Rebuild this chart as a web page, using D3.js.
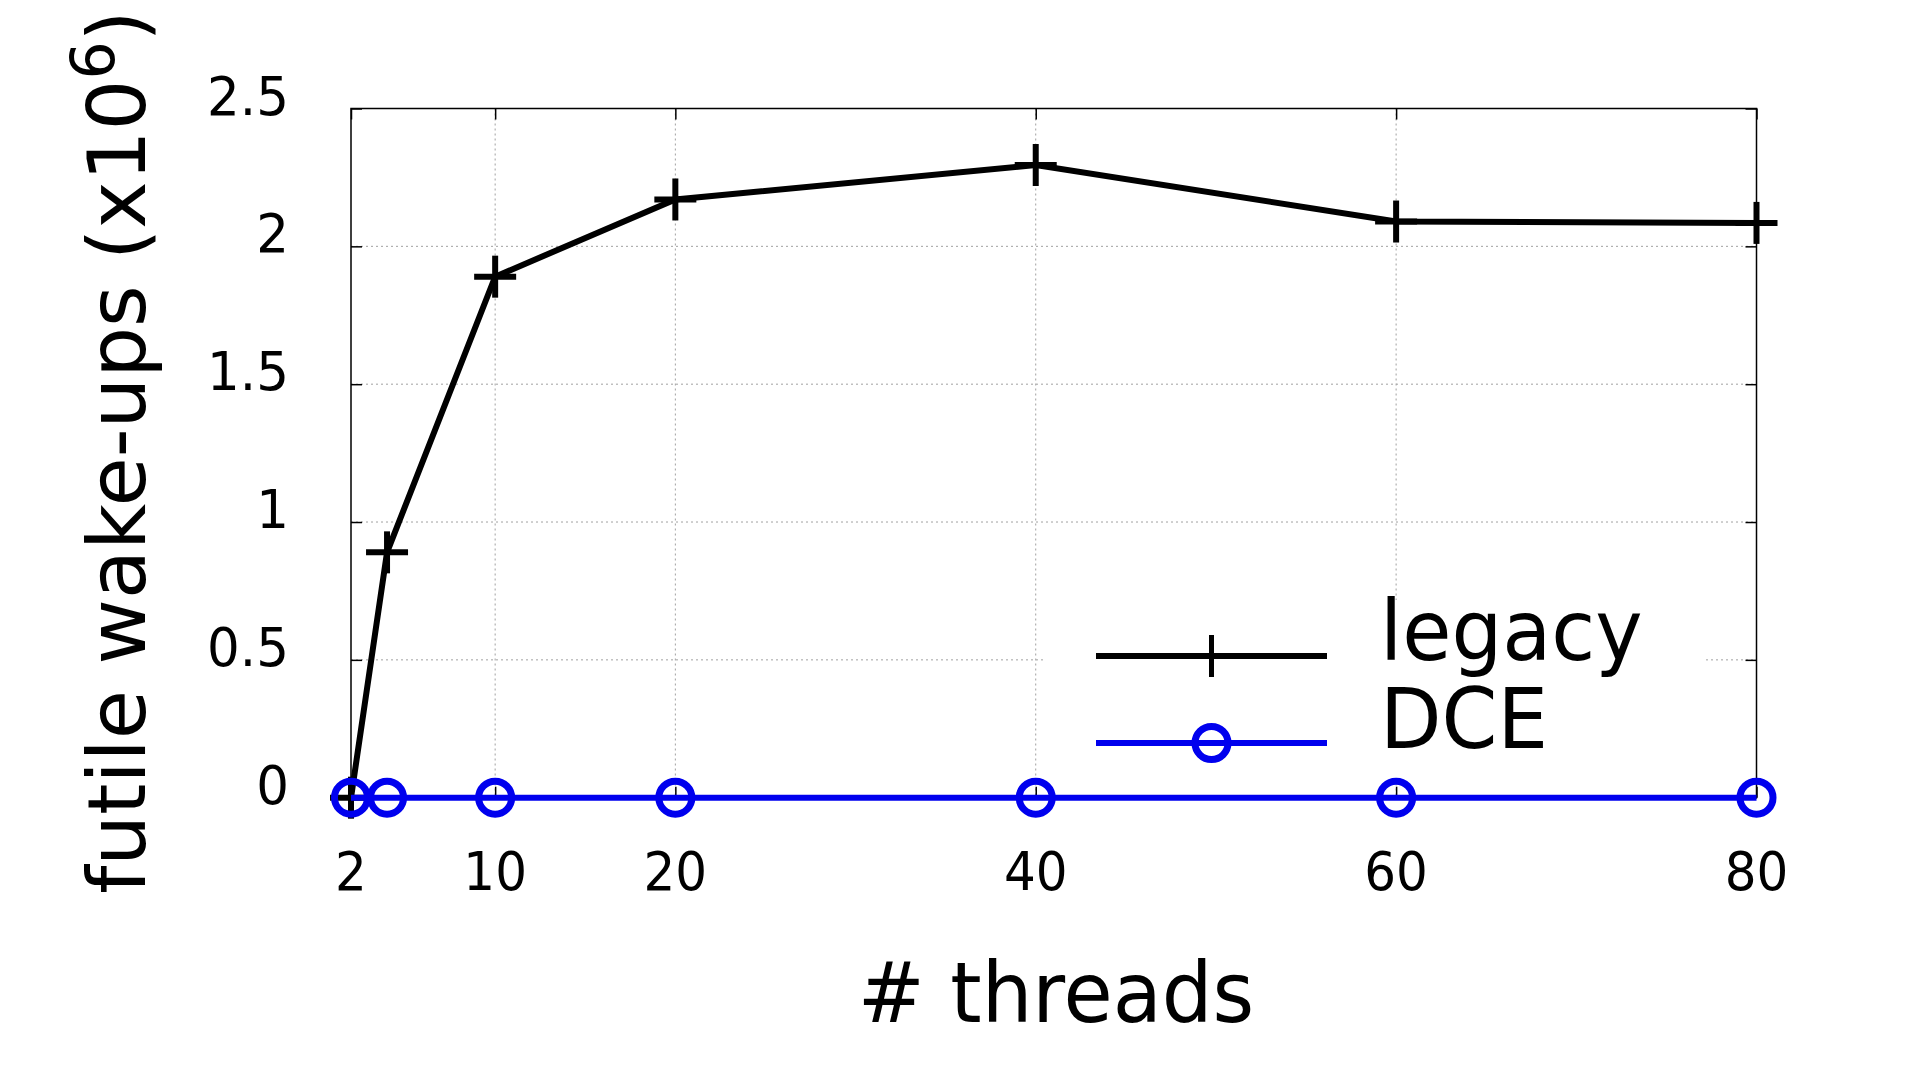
<!DOCTYPE html>
<html>
<head>
<meta charset="utf-8">
<script src="https://cdn.jsdelivr.net/npm/d3@7"></script>
<style>
  html, body { margin: 0; padding: 0; background: #fff; }
  svg { display: block; }
  text { font-family: "DejaVu Sans", sans-serif; fill: #000; }
</style>
</head>
<body>
<svg id="chart" width="1920" height="1080"></svg>
<script>
const threads = [2, 4, 10, 20, 40, 60, 80];
const legacyValues = [0, 0.89, 1.89, 2.17, 2.295, 2.09, 2.085];
const dceValues = [0, 0, 0, 0, 0, 0, 0];
const xTicks = [2, 10, 20, 40, 60, 80];
const yTicks = [0, 0.5, 1, 1.5, 2, 2.5];
const yTickLabels = ["0", "0.5", "1", "1.5", "2", "2.5"];
const seriesNames = ["legacy", "DCE"];
const xTitle = "# threads";

const L = 351, R = 1756.5, T = 108.5, B = 797.7;
const svg = d3.select("#chart");
svg.append("rect").attr("width", 1920).attr("height", 1080).attr("fill", "#fff");

const x = d3.scaleLinear().domain([2, 80]).range([L, R]);
const y = d3.scaleLinear().domain([0, 2.5]).range([B, T]);

// grid
const grid = svg.append("g").attr("stroke", "#a0a0a0").attr("stroke-width", 1).attr("stroke-dasharray", "2,3");
grid.selectAll("line.gx").data(xTicks.filter(d => d !== 2 && d !== 80)).join("line")
  .attr("x1", d => x(d)).attr("x2", d => x(d)).attr("y1", T).attr("y2", B);
grid.selectAll("line.gy").data(yTicks.filter(d => d !== 0 && d !== 2.5)).join("line")
  .attr("y1", d => y(d)).attr("y2", d => y(d)).attr("x1", L).attr("x2", R);

// legend background box
svg.append("rect").attr("x", 1043).attr("y", 600).attr("width", 662).attr("height", 178).attr("fill", "#fff");

// axes with inward ticks (gnuplot style, mirrored)
const tl = 11;
const axB = d3.axisBottom(x).tickValues(xTicks).tickSize(-tl).tickFormat("");
const axT = d3.axisTop(x).tickValues(xTicks).tickSize(-tl).tickFormat("");
const axLf = d3.axisLeft(y).tickValues(yTicks).tickSize(-tl).tickFormat("");
const axRt = d3.axisRight(y).tickValues(yTicks).tickSize(-tl).tickFormat("");
[[axB, `translate(0,${B})`], [axT, `translate(0,${T})`], [axLf, `translate(${L},0)`], [axRt, `translate(${R},0)`]]
  .forEach(([ax, tr]) => {
    const g = svg.append("g").attr("transform", tr).call(ax);
    g.select(".domain").remove();
    g.selectAll(".tick line").attr("stroke", "#000").attr("stroke-width", 1.5);
  });
svg.append("rect").attr("x", L).attr("y", T).attr("width", R - L).attr("height", B - T)
  .attr("fill", "none").attr("stroke", "#000").attr("stroke-width", 1.5);

// tick labels (slightly taller glyphs, as in the reference)
svg.append("g").selectAll("text").data(xTicks).join("text")
  .attr("transform", d => `translate(${x(d)},890) scale(1,1.05)`).attr("text-anchor", "middle")
  .attr("font-size", 50).text(d => d);
svg.append("g").selectAll("text").data(yTicks).join("text")
  .attr("transform", d => `translate(289,${y(d) + 6}) scale(1.03,1.05)`).attr("text-anchor", "end")
  .attr("font-size", 50).text((d, i) => yTickLabels[i]);

// titles
svg.append("text").attr("transform", "translate(1056,1022) scale(1,1.05)").attr("text-anchor", "middle")
  .attr("font-size", 80).text(xTitle);
const yt = svg.append("text").attr("transform", "translate(145,452) rotate(-90)")
  .attr("text-anchor", "middle").attr("font-size", 80);
yt.append("tspan").text("futile wake-ups (x10");
yt.append("tspan").attr("font-size", 60).attr("dy", -31).text("6");
yt.append("tspan").attr("dy", 31).text(")");

// data
const blue = "#0000ee";
const line = d3.line().x(d => x(d[0])).y(d => y(d[1]));
const legacyPts = threads.map((t, i) => [t, legacyValues[i]]);
const dcePts = threads.map((t, i) => [t, dceValues[i]]);

function plus(g, cx, cy, s, w) {
  g.append("line").attr("x1", cx - s).attr("x2", cx + s).attr("y1", cy).attr("y2", cy)
    .attr("stroke", "#000").attr("stroke-width", w);
  g.append("line").attr("x1", cx).attr("x2", cx).attr("y1", cy - s).attr("y2", cy + s)
    .attr("stroke", "#000").attr("stroke-width", w);
}

svg.append("path").datum(legacyPts).attr("d", line).attr("fill", "none")
  .attr("stroke", "#000").attr("stroke-width", 6).attr("stroke-linejoin", "miter");
const pg = svg.append("g");
legacyPts.forEach(p => plus(pg, x(p[0]), y(p[1]), 21, 6));

svg.append("path").datum(dcePts).attr("d", line).attr("fill", "none")
  .attr("stroke", blue).attr("stroke-width", 6);
svg.append("g").selectAll("circle").data(dcePts).join("circle")
  .attr("cx", d => x(d[0])).attr("cy", d => y(d[1])).attr("r", 16.5)
  .attr("fill", "none").attr("stroke", blue).attr("stroke-width", 7);

// legend
const lg = svg.append("g");
lg.append("line").attr("x1", 1096).attr("x2", 1327).attr("y1", 656).attr("y2", 656)
  .attr("stroke", "#000").attr("stroke-width", 6);
plus(lg, 1211.5, 656, 21, 5);
lg.append("line").attr("x1", 1096).attr("x2", 1327).attr("y1", 743).attr("y2", 743)
  .attr("stroke", blue).attr("stroke-width", 6);
lg.append("circle").attr("cx", 1211.5).attr("cy", 743).attr("r", 16.5)
  .attr("fill", "none").attr("stroke", blue).attr("stroke-width", 7);
lg.append("text").attr("transform", "translate(1380,660) scale(1,1.04)").attr("font-size", 80).text(seriesNames[0]);
lg.append("text").attr("transform", "translate(1380,748) scale(1,1.04)").attr("font-size", 80).text(seriesNames[1]);
</script>
</body>
</html>
